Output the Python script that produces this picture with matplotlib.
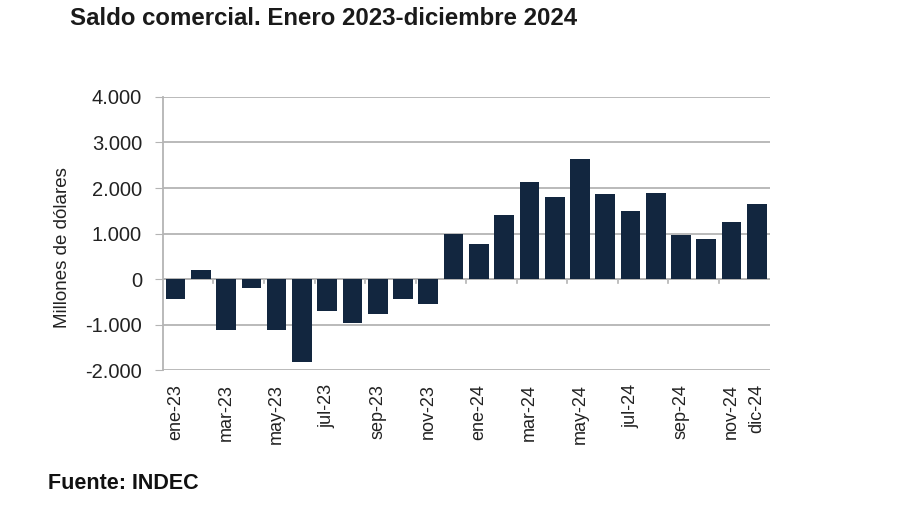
import matplotlib.pyplot as plt
from matplotlib.ticker import FuncFormatter

plt.rcParams['font.family'] = ['Liberation Sans', 'DejaVu Sans']

# Monthly trade balance, millions of USD
months = ['ene-23', 'feb-23', 'mar-23', 'abr-23', 'may-23', 'jun-23',
          'jul-23', 'ago-23', 'sep-23', 'oct-23', 'nov-23', 'dic-23',
          'ene-24', 'feb-24', 'mar-24', 'abr-24', 'may-24', 'jun-24',
          'jul-24', 'ago-24', 'sep-24', 'oct-24', 'nov-24', 'dic-24']
saldo = [-440, 200, -1110, -190, -1120, -1830,
         -700, -970, -770, -445, -550, 1000,
         780, 1400, 2140, 1810, 2635, 1876,
         1496, 1900, 965, 890, 1255, 1657]
shown_labels = ['ene-23', 'mar-23', 'may-23', 'jul-23', 'sep-23', 'nov-23',
                'ene-24', 'mar-24', 'may-24', 'jul-24', 'sep-24', 'nov-24', 'dic-24']
y_ticks = [-2000, -1000, 0, 1000, 2000, 3000, 4000]

fig = plt.figure(figsize=(9, 5.05), dpi=100)
ax = fig.add_axes([0.181, 0.267, 0.674, 0.541])

x = list(range(len(months)))
ax.bar(x, saldo, width=0.78, color='#12263f', zorder=3)

ax.set_xlim(-0.5, len(months) - 0.5)
ax.set_ylim(-2000, 4000)
ax.set_yticks(y_ticks)
ax.yaxis.set_major_formatter(FuncFormatter(lambda v, p: f'{int(v):,}'.replace(',', '.')))
ax.grid(axis='y', color='#b4b4b4', linewidth=1.3, zorder=1)
ax.tick_params(axis='y', length=6, color='#b4b4b4', labelsize=14.5, labelcolor='#222222', pad=9)

# category labels (every other month + last)
idx = [months.index(m) for m in shown_labels]
ax.set_xticks(idx)
ax.set_xticklabels(shown_labels, rotation=90, fontsize=13, color='#222222')
ax.tick_params(axis='x', length=0, pad=10)

# small category ticks on the zero line
for b in range(2, len(months), 2):
    ax.plot([b - 0.5, b - 0.5], [0, -90], color='#b4b4b4', linewidth=1.2, zorder=2)
ax.axhline(0, color='#b4b4b4', linewidth=1.3, zorder=2)

for s in ['top', 'right', 'bottom']:
    ax.spines[s].set_visible(False)
ax.spines['left'].set_color('#b4b4b4')
ax.spines['left'].set_linewidth(1.3)

ax.set_ylabel('Millones de dólares', fontsize=13.5, color='#222222')
ax.yaxis.set_label_coords(-0.152, 0.45)

fig.text(0.078, 0.963, 'Saldo comercial. Enero 2023-diciembre 2024',
         fontsize=17.3, fontweight='bold', color='#1a1a1a', va='center')
fig.text(0.053, 0.043, 'Fuente: INDEC', fontsize=15.5, fontweight='bold',
         color='#111111', va='center')

fig.savefig('out.png', dpi=100, facecolor='white')
